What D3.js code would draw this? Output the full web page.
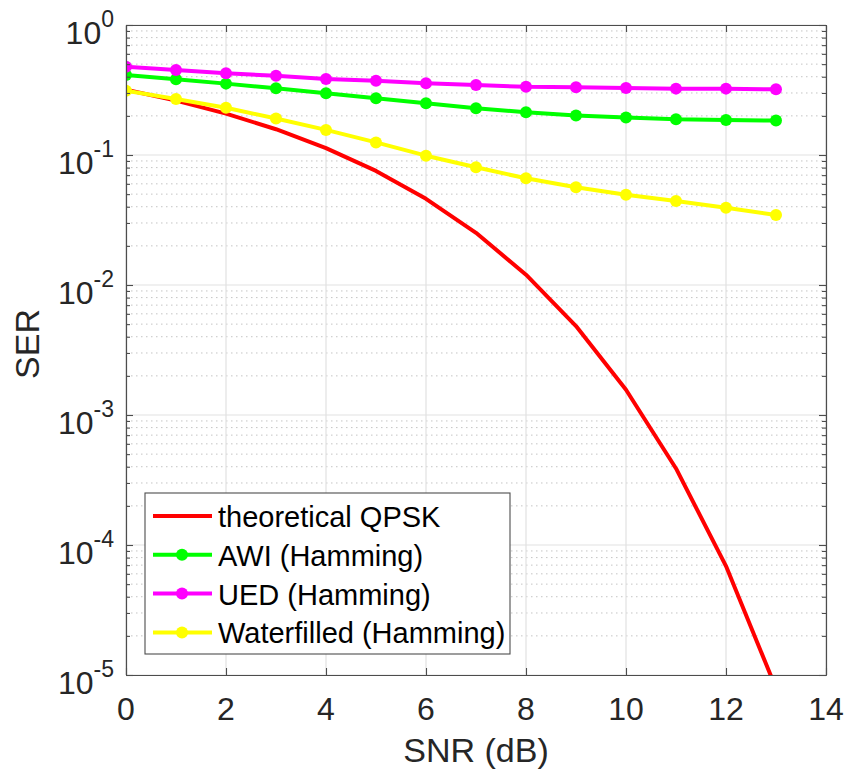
<!DOCTYPE html>
<html>
<head>
<meta charset="utf-8">
<script src="https://cdn.jsdelivr.net/npm/d3@7"></script>
<style>
  html, body { margin: 0; padding: 0; background: #fff; }
  svg { display: block; font-family: "Liberation Sans", Arial, Helvetica, sans-serif; }
</style>
</head>
<body>
<svg id="chart" width="849" height="772"></svg>
<script>
// SNR grid (dB)
const snr = [0, 1, 2, 3, 4, 5, 6, 7, 8, 9, 10, 11, 12, 13];

// Symbol error rates per scheme
const serTheoretical = [0.3173, 0.2618, 0.2080, 0.1578, 0.1130, 0.0754, 0.0460, 0.0252,
                        0.0120, 0.00483, 0.001565, 3.88e-4, 6.88e-5, 7.9e-6];
const serAWI = [0.412, 0.382, 0.354, 0.326, 0.298, 0.273, 0.250, 0.229,
                0.213, 0.201, 0.194, 0.188, 0.186, 0.184];
const serUED = [0.478, 0.451, 0.425, 0.407, 0.384, 0.373, 0.356, 0.345,
                0.335, 0.332, 0.328, 0.324, 0.324, 0.320];
const serWaterfilled = [0.312, 0.270, 0.231, 0.191, 0.156, 0.125, 0.0988, 0.0804,
                        0.0662, 0.0564, 0.0495, 0.0443, 0.0393, 0.0345];

const seriesNames = ["theoretical QPSK", "AWI (Hamming)", "UED (Hamming)", "Waterfilled (Hamming)"];
const seriesColors = ["#ff0000", "#00ff00", "#ff00ff", "#ffff00"];
const seriesMarkers = [false, true, true, true];

const xTicks = [0, 2, 4, 6, 8, 10, 12, 14];
const yExponents = [0, -1, -2, -3, -4, -5];

const xLabel = "SNR (dB)";
const yLabel = "SER";

const seriesValues = [serTheoretical, serAWI, serUED, serWaterfilled];

// Layout
const plot = { left: 126, right: 826, top: 25, bottom: 675 };
const axisColor = "#262626";
const tickFont = 32, expFont = 23, labelFont = 34, legendFont = 29;

const svg = d3.select("#chart");

const x = d3.scaleLinear().domain([0, 14]).range([plot.left, plot.right]);
const y = d3.scaleLog().domain([1e-5, 1]).range([plot.bottom, plot.top]);

// Minor decade values 2..9 × 10^k
const minorVals = [];
for (let e = -5; e < 0; e++) {
  for (let m = 2; m <= 9; m++) minorVals.push(m * Math.pow(10, e));
}
const majorVals = yExponents.map(e => Math.pow(10, e));

// Grid
const grid = svg.append("g");
grid.selectAll("line.minor").data(minorVals).join("line")
  .attr("x1", plot.left).attr("x2", plot.right)
  .attr("y1", d => y(d)).attr("y2", d => y(d))
  .attr("stroke", "#c4c4c4").attr("stroke-width", 1)
  .attr("stroke-dasharray", "1.5,3.5");
grid.selectAll("line.majory").data(majorVals).join("line")
  .attr("x1", plot.left).attr("x2", plot.right)
  .attr("y1", d => y(d)).attr("y2", d => y(d))
  .attr("stroke", "#e1e1e1").attr("stroke-width", 1.2);
grid.selectAll("line.majorx").data(xTicks).join("line")
  .attr("x1", d => x(d)).attr("x2", d => x(d))
  .attr("y1", plot.top).attr("y2", plot.bottom)
  .attr("stroke", "#e1e1e1").attr("stroke-width", 1.2);

// Clip region for the data
svg.append("defs").append("clipPath").attr("id", "plotClip")
  .append("rect")
  .attr("x", plot.left).attr("y", plot.top)
  .attr("width", plot.right - plot.left).attr("height", plot.bottom - plot.top);

const line = d3.line().x(d => x(d[0])).y(d => y(d[1]));
const dataG = svg.append("g").attr("clip-path", "url(#plotClip)");

seriesValues.forEach((vals, i) => {
  const pts = snr.map((s, j) => [s, vals[j]]);
  dataG.append("path")
    .datum(pts)
    .attr("d", line)
    .attr("fill", "none")
    .attr("stroke", seriesColors[i])
    .attr("stroke-width", 4)
    .attr("stroke-linejoin", "round");
  if (seriesMarkers[i]) {
    dataG.selectAll(null).data(pts).join("circle")
      .attr("cx", d => x(d[0])).attr("cy", d => y(d[1]))
      .attr("r", 6)
      .attr("fill", seriesColors[i]);
  }
});

// Axes box with inward ticks (bottom/top, left/right)
const xAxisB = d3.axisBottom(x).tickValues(xTicks).tickSizeInner(-7).tickSizeOuter(0).tickFormat("");
const xAxisT = d3.axisTop(x).tickValues(xTicks).tickSizeInner(-7).tickSizeOuter(0).tickFormat("");
const yAxisL = d3.axisLeft(y).tickValues(majorVals).tickSizeInner(-7).tickSizeOuter(0).tickFormat("");
const yAxisR = d3.axisRight(y).tickValues(majorVals).tickSizeInner(-7).tickSizeOuter(0).tickFormat("");
const yMinorL = d3.axisLeft(y).tickValues(minorVals).tickSizeInner(-4).tickSizeOuter(0).tickFormat("");
const yMinorR = d3.axisRight(y).tickValues(minorVals).tickSizeInner(-4).tickSizeOuter(0).tickFormat("");

function styleAxis(g) {
  g.selectAll("path, line").attr("stroke", "#4d4d4d").attr("stroke-width", 1.1);
}
svg.append("g").attr("transform", `translate(0,${plot.bottom})`).call(xAxisB).call(styleAxis);
svg.append("g").attr("transform", `translate(0,${plot.top})`).call(xAxisT).call(styleAxis);
svg.append("g").attr("transform", `translate(${plot.left},0)`).call(yAxisL).call(styleAxis);
svg.append("g").attr("transform", `translate(${plot.right},0)`).call(yAxisR).call(styleAxis);
svg.append("g").attr("transform", `translate(${plot.left},0)`).call(yMinorL).call(styleAxis);
svg.append("g").attr("transform", `translate(${plot.right},0)`).call(yMinorR).call(styleAxis);

// X tick labels
svg.append("g").selectAll("text").data(xTicks).join("text")
  .attr("x", d => x(d)).attr("y", 720)
  .attr("text-anchor", "middle")
  .attr("font-size", tickFont)
  .attr("fill", axisColor)
  .text(d => d);

// Y tick labels: 10 with superscript exponent, right-aligned
const yLab = svg.append("g").selectAll("text").data(yExponents).join("text")
  .attr("x", 114)
  .attr("y", d => y(Math.pow(10, d)) + 19)
  .attr("text-anchor", "end")
  .attr("font-size", tickFont)
  .attr("fill", axisColor);
yLab.append("tspan").text("10");
yLab.append("tspan")
  .attr("font-size", expFont)
  .attr("dy", -17)
  .text(d => d === 0 ? "0" : "-" + Math.abs(d));

// Axis labels
svg.append("text")
  .attr("x", (plot.left + plot.right) / 2).attr("y", 762)
  .attr("text-anchor", "middle")
  .attr("font-size", labelFont)
  .attr("fill", axisColor)
  .text(xLabel);
svg.append("text")
  .attr("transform", `translate(39,${(plot.top + plot.bottom) / 2 - 6}) rotate(-90)`)
  .attr("text-anchor", "middle")
  .attr("font-size", labelFont)
  .attr("fill", axisColor)
  .text(yLabel);

// Legend
const legend = { left: 145, top: 493, width: 365, height: 161, rowY0: 516, rowStep: 38.8 };
const lg = svg.append("g");
lg.append("rect")
  .attr("x", legend.left).attr("y", legend.top)
  .attr("width", legend.width).attr("height", legend.height)
  .attr("fill", "#fff").attr("stroke", "#4d4d4d").attr("stroke-width", 1.1);
seriesNames.forEach((name, i) => {
  const cy = legend.rowY0 + i * legend.rowStep;
  lg.append("line")
    .attr("x1", 153).attr("x2", 212).attr("y1", cy).attr("y2", cy)
    .attr("stroke", seriesColors[i]).attr("stroke-width", 4);
  if (seriesMarkers[i]) {
    lg.append("circle").attr("cx", 182).attr("cy", cy).attr("r", 6).attr("fill", seriesColors[i]);
  }
  lg.append("text")
    .attr("x", 218).attr("y", cy + 11)
    .attr("font-size", legendFont)
    .attr("fill", "#000")
    .text(name);
});
</script>
</body>
</html>
